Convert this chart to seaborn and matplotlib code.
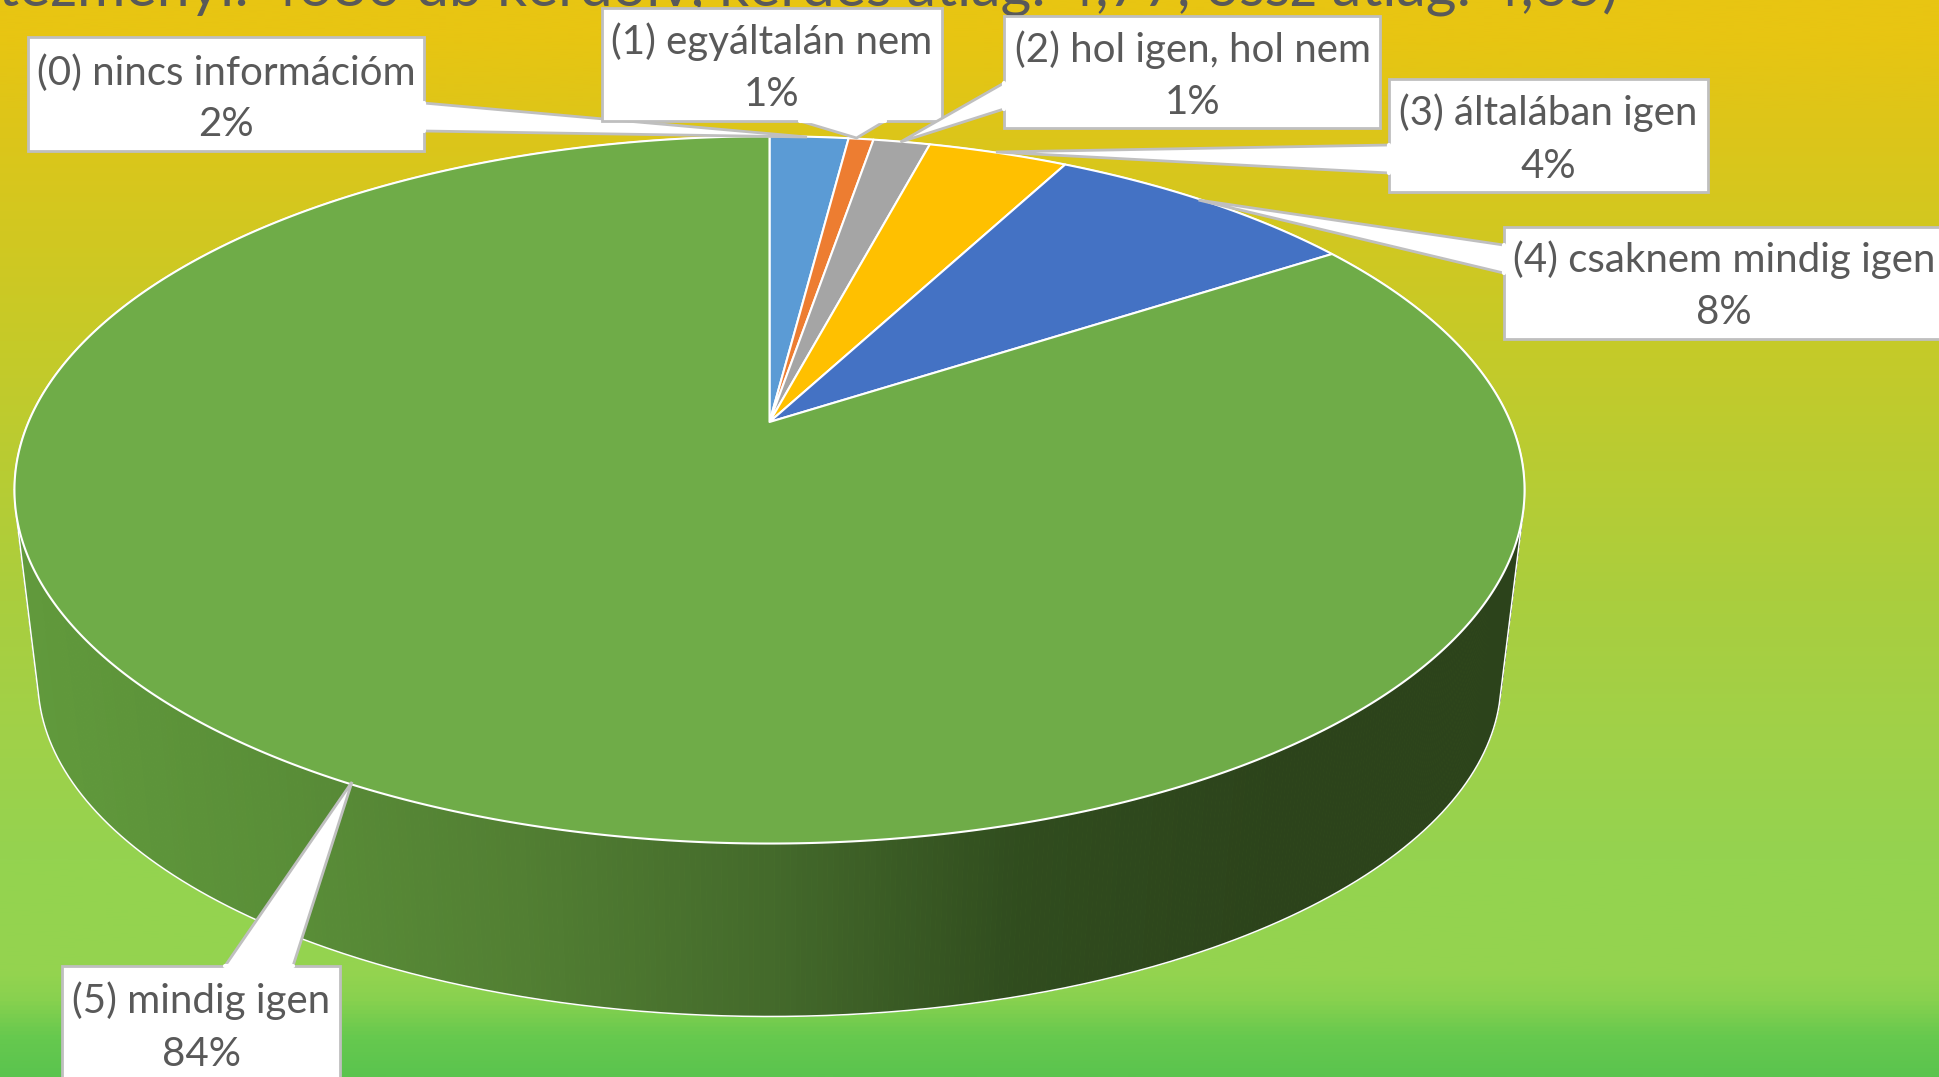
import numpy as np
import matplotlib
matplotlib.use("Agg")
import matplotlib.pyplot as plt
from matplotlib.collections import PolyCollection
from matplotlib.colors import LinearSegmentedColormap
import seaborn as sns

# ---- data ----
categories = ["(0) nincs információm", "(1) egyáltalán nem", "(2) hol igen, hol nem",
              "(3) általában igen", "(4) csaknem mindig igen", "(5) mindig igen"]
shares = [2.03, 0.64, 1.46, 3.6, 8.1, 84.17]
slice_colors = ["#5b9bd5", "#ed7d31", "#a5a5a5", "#ffc000", "#4472c4", "#6fac48"]
title_text = "tézményi: 4680 db kérdőív, kérdés átlag: 4,77, össz átlag: 4,65)"

# ---- layout (pixels) ----
W, H = 1939, 1077
CX, APEX_Y = 769.5, 422.0
A, B, K = 741.0, 340.6, 0.192      # perspective disc
TOP_CY, BOT_CY = 489.7, 680.0
SX, SY = 0.969, 0.951              # lower rim relative to upper rim

boxes = [  # x0, x1, y0, y1, pointer polygon
    (27.5, 423.5, 37, 151, [(423.5, 103), (807, 137), (423.5, 131)]),
    (601.5, 942, 8, 121, [(800, 121), (856.5, 138), (885, 121)]),
    (1004, 1380, 16, 128, [(1004, 83), (900.5, 142), (1004, 109)]),
    (1389, 1707.5, 79, 192, [(1389, 145), (996, 152), (1389, 173)]),
    (1503.5, 1990, 227, 339, [(1503.5, 245), (1198.5, 200), (1503.5, 273)]),
    (62, 340, 966, 1130, [(225, 966), (352, 782), (293, 966)]),
]
text_centers = [(226, 73, 124), (772, 42, 94), (1193, 50, 102),
                (1548, 113, 166), (1724, 260, 313), (201, 1001, 1054)]


def rim(theta):
    w = 1 + K * np.cos(theta)
    return CX + A * np.sin(theta) / w, APEX_Y - B * np.cos(theta) / w


def lower(x, y):
    return CX + SX * (x - CX), BOT_CY + SY * (y - TOP_CY)


def hull(points):
    pts = sorted(set(points))

    def half(seq):
        out = []
        for p in seq:
            while len(out) > 1 and ((out[-1][0] - out[-2][0]) * (p[1] - out[-2][1])
                                    - (out[-1][1] - out[-2][1]) * (p[0] - out[-2][0])) <= 0:
                out.pop()
            out.append(p)
        return out[:-1]
    return half(pts) + half(pts[::-1])


sns.set_style("white")
plt.rcParams["font.family"] = ["Lato", "DejaVu Sans"]

fig = plt.figure(figsize=(W / 100, H / 100), dpi=100)
ax = fig.add_axes([0, 0, 1, 1])
ax.set_xlim(0, W)
ax.set_ylim(H, 0)
ax.axis("off")

# background gradient
bg = LinearSegmentedColormap.from_list("bg", [
    (0.0, "#e8c512"), (0.03, "#e8c512"), (0.10, "#dfc518"), (0.316, "#c6ca28"),
    (0.557, "#aace3e"), (0.687, "#a0d149"), (0.80, "#94d350"), (0.905, "#94d44f"),
    (0.93, "#88d14f"), (0.965, "#66c94e"), (1.0, "#5bc44e")])
ax.imshow(np.linspace(0, 1, 512)[:, None], cmap=bg, aspect="auto",
          extent=(0, W, H, 0), zorder=0, vmin=0, vmax=1)

# side wall
t = np.linspace(0, 2 * np.pi, 1081)
xt, yt = rim(t)
xb, yb = lower(xt, yt)
wall = sns.blend_palette(["#619a3c", "#5a8f38", "#527f33", "#446a2b",
                          "#304c1e", "#2c431b", "#2c431b"], n_colors=256)
quads, cols = [], []
for i in range(len(t) - 1):
    quads.append([(xt[i], yt[i]), (xt[i + 1], yt[i + 1]), (xb[i + 1], yb[i + 1]), (xb[i], yb[i])])
    f = (0.5 * (xt[i] + xb[i]) - 15) / 1510
    cols.append(wall[int(np.clip(f, 0, 0.999) * 256)])
ax.add_collection(PolyCollection(quads, facecolors=cols, edgecolors=cols, linewidths=0.6, zorder=2))

# outline of the whole solid
outline = hull(list(zip(xt.tolist(), yt.tolist())) + list(zip(xb.tolist(), yb.tolist())))
ox, oy = zip(*(outline + outline[:1]))
ax.plot(ox, oy, color="white", lw=1.1, zorder=3)

# slices on top disc, from the shares
edges = np.cumsum([0] + shares) / np.sum(shares) * 2 * np.pi
for s, e, c in zip(edges[:-1], edges[1:], slice_colors):
    th = np.linspace(s, e, max(4, int((e - s) * 150)))
    x, y = rim(th)
    ax.fill(np.r_[CX, x], np.r_[APEX_Y, y], facecolor=c, edgecolor="white", lw=1.5,
            joinstyle="round", zorder=4)

# title, clipped by the top of the figure
ax.text(-2, 5, title_text, fontsize=42.5, color="#595959", ha="left", va="baseline", zorder=5)

# callouts
for (x0, x1, y0, y1, ptr), name, share, (tx, ly1, ly2) in zip(boxes, categories, shares, text_centers):
    edge = "#bfbfbf"
    ax.fill(*zip(*ptr), facecolor="white", edgecolor=edge, lw=2.0, zorder=6)
    ax.fill([x0, x1, x1, x0], [y0, y0, y1, y1], facecolor="white", edgecolor=edge, lw=2.0, zorder=6)
    # hide the seam between box and pointer
    (ax1, ay1), _, (ax2, ay2) = ptr
    ax.plot([ax1, ax2], [ay1, ay2], color="white", lw=3.0, zorder=7)
    ax.text(tx, ly1, name, fontsize=29, color="#595959", ha="center", va="center", zorder=8)
    ax.text(tx, ly2, f"{share:.0f}%", fontsize=29, color="#595959", ha="center", va="center", zorder=8)

fig.savefig("out.png", dpi=100)
